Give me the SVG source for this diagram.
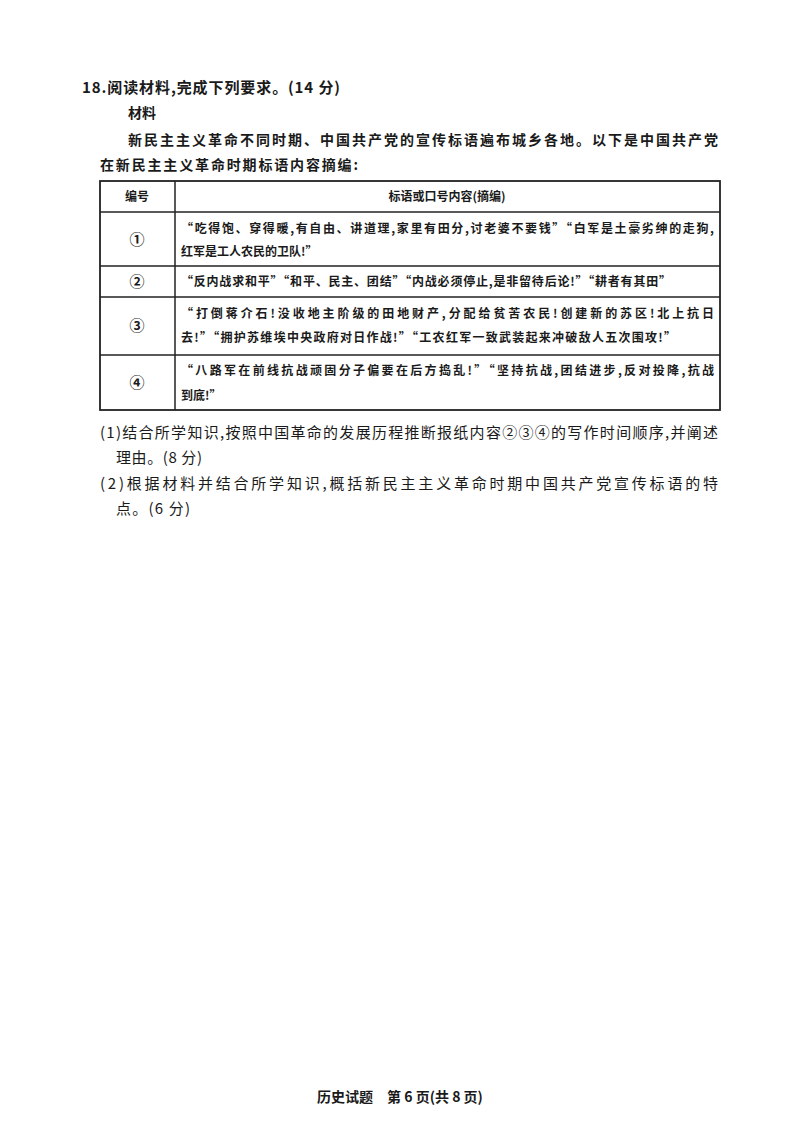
<svg xmlns="http://www.w3.org/2000/svg" width="800" height="1132" viewBox="0 0 800 1132">
<style>
text{font-family:"Noto Sans CJK SC","Noto Sans CJK JP",sans-serif;fill:#1a1a1a}
.b{font-size:14px;font-weight:bold}
.t{font-size:12px;font-weight:bold}
.n{font-size:15px;font-weight:bold}
.q{font-size:15px}
.c{text-anchor:middle}
line{stroke:#222;stroke-width:1.5}
</style>
<rect width="800" height="1132" fill="#fff"/>
<text class="b" x="82" y="93" textLength="258" lengthAdjust="spacing" style="font-size:15px">18.阅读材料,完成下列要求。(14 分)</text>
<text class="b" x="128" y="118">材料</text>
<text class="b" x="128" y="145" textLength="590" lengthAdjust="spacing">新民主主义革命不同时期、中国共产党的宣传标语遍布城乡各地。以下是中国共产党</text>
<text class="b" x="100" y="170" textLength="258" lengthAdjust="spacing">在新民主主义革命时期标语内容摘编:</text>
<g id="table">
<rect x="100" y="181" width="620" height="229" fill="none" stroke="#222" stroke-width="1.8"/>
<line x1="100" y1="212" x2="720" y2="212"/>
<line x1="100" y1="266" x2="720" y2="266"/>
<line x1="100" y1="297" x2="720" y2="297"/>
<line x1="100" y1="355" x2="720" y2="355"/>
<line x1="175" y1="181" x2="175" y2="410"/>
<text class="t c" x="137" y="201">编号</text>
<text class="t c" x="447" y="201">标语或口号内容(摘编)</text>
<text class="n c" x="137" y="245">①</text>
<text class="t" x="181" y="233" textLength="533" lengthAdjust="spacing">“吃得饱、穿得暖,有自由、讲道理,家里有田分,讨老婆不要钱”“白军是土豪劣绅的走狗,</text>
<text class="t" x="181" y="256">红军是工人农民的卫队!”</text>
<text class="n c" x="137" y="287">②</text>
<text class="t" x="181" y="286" textLength="490" lengthAdjust="spacing">“反内战求和平”“和平、民主、团结”“内战必须停止,是非留待后论!”“耕者有其田”</text>
<text class="n c" x="137" y="331">③</text>
<text class="t" x="181" y="318" textLength="533" lengthAdjust="spacing">“打倒蒋介石!没收地主阶级的田地财产,分配给贫苦农民!创建新的苏区!北上抗日</text>
<text class="t" x="181" y="342" textLength="495" lengthAdjust="spacing">去!”“拥护苏维埃中央政府对日作战!”“工农红军一致武装起来冲破敌人五次围攻!”</text>
<text class="n c" x="137" y="388">④</text>
<text class="t" x="181" y="375" textLength="533" lengthAdjust="spacing">“八路军在前线抗战顽固分子偏要在后方捣乱!”“坚持抗战,团结进步,反对投降,抗战</text>
<text class="t" x="181" y="400">到底!”</text>
</g>
<text class="q" x="100" y="438" textLength="618" lengthAdjust="spacing">(1)结合所学知识,按照中国革命的发展历程推断报纸内容②③④的写作时间顺序,并阐述</text>
<text class="q" x="116" y="463" textLength="86" lengthAdjust="spacing">理由。(8 分)</text>
<text class="q" x="100" y="489" textLength="618" lengthAdjust="spacing">(2)根据材料并结合所学知识,概括新民主主义革命时期中国共产党宣传标语的特</text>
<text class="q" x="116" y="514" textLength="74" lengthAdjust="spacing">点。(6 分)</text>
<text class="b c" x="400" y="1102">历史试题　第 6 页(共 8 页)</text>
</svg>
